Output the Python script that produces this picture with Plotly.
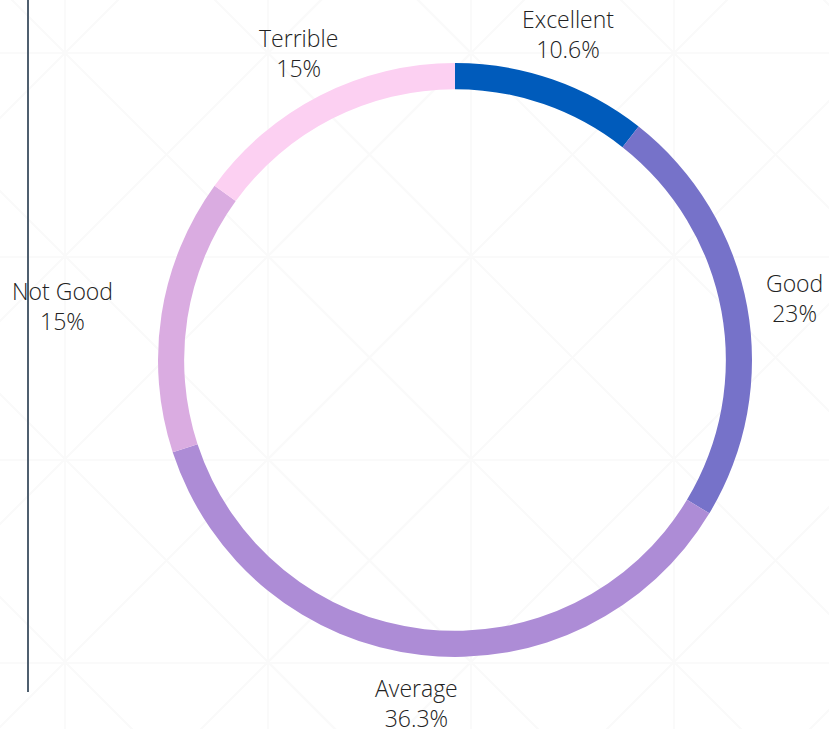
import math
import plotly.graph_objects as go

# Survey rating breakdown
ratings = ["Excellent", "Good", "Average", "Not Good", "Terrible"]
shares = [10.6, 23.0, 36.3, 15.0, 15.0]
colors = ["#005BBB", "#7672C9", "#AD8CD6", "#DAACE1", "#FCD0F2"]

W, H = 829, 729
CX, CY, R_OUT = 455, 360, 297  # donut centre and outer radius, px

fig = go.Figure(
    go.Pie(
        labels=ratings,
        values=shares,
        sort=False,
        direction="clockwise",
        rotation=0,
        hole=0.912,
        marker=dict(colors=colors, line=dict(width=0)),
        textinfo="none",
        hoverinfo="label+percent",
        showlegend=False,
        domain=dict(x=[(CX - R_OUT) / W, (CX + R_OUT) / W],
                    y=[1 - (CY + R_OUT) / H, 1 - (CY - R_OUT) / H]),
    )
)


def fmt_pct(p):
    return f"{p:.3g}%"


# labels centred on each slice's mid-angle, outside the ring
label_dist = {"Not Good": 397}
label_shift_y = {"Not Good": 8}
total = sum(shares)
annotations = []
acc = 0.0
for name, v in zip(ratings, shares):
    mid = (acc + v / 2) / total * 2 * math.pi
    acc += v
    r = label_dist.get(name, 345)
    px = CX + r * math.sin(mid)
    py = CY - r * math.cos(mid) + label_shift_y.get(name, 0)
    annotations.append(dict(
        x=px / W, y=1 - py / H, xref="paper", yref="paper",
        xanchor="center", yanchor="middle", showarrow=False,
        text=f"{name}<br>{fmt_pct(100 * v / total)}",
        font=dict(family="Open Sans", size=23, color="#222222", weight=300),
    ))

# faint decorative lattice behind the chart
shapes = []
faint = dict(color="#fafafa", width=2)
grid_x = [65, 268, 471, 674]
grid_y = [53, 257, 460, 663]
for gx in grid_x:
    shapes.append(dict(type="line", xref="paper", yref="paper", x0=gx / W, x1=gx / W,
                       y0=0, y1=1, line=faint, layer="below"))
for gy in grid_y:
    shapes.append(dict(type="line", xref="paper", yref="paper", x0=0, x1=1,
                       y0=1 - gy / H, y1=1 - gy / H, line=faint, layer="below"))
step = 203
for i in range(-1, 4):
    for j in range(-1, 4):
        x0, y0 = 65 + i * step, 53 + j * step
        x1, y1 = x0 + step, y0 + step
        shapes.append(dict(type="line", xref="paper", yref="paper",
                           x0=x0 / W, y0=1 - y0 / H, x1=x1 / W, y1=1 - y1 / H,
                           line=faint, layer="below"))
        shapes.append(dict(type="line", xref="paper", yref="paper",
                           x0=x1 / W, y0=1 - y0 / H, x1=x0 / W, y1=1 - y1 / H,
                           line=faint, layer="below"))

# dark vertical rule on the left
shapes.append(dict(type="line", xref="paper", yref="paper",
                   x0=28 / W, x1=28 / W, y0=1, y1=1 - 692 / H,
                   line=dict(color="#4f5f6f", width=2), layer="above"))

fig.update_layout(
    width=W,
    height=H,
    margin=dict(l=0, r=0, t=0, b=0),
    paper_bgcolor="white",
    plot_bgcolor="white",
    shapes=shapes,
    annotations=annotations,
)

fig.write_html("out.html")
